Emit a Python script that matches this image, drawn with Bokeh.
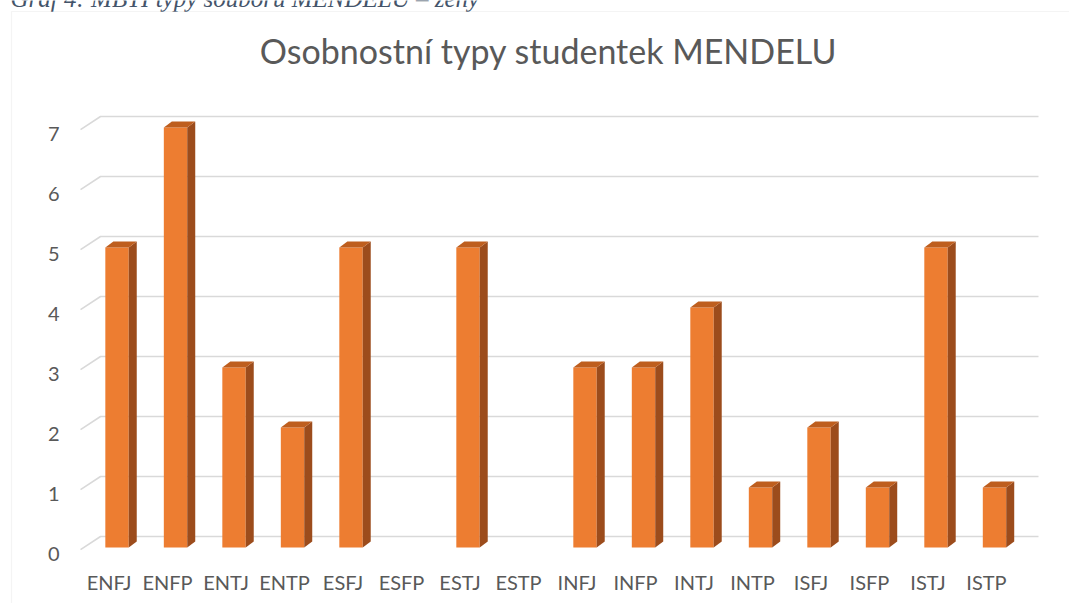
from bokeh.plotting import figure
from bokeh.models import Range1d, BoxAnnotation, ColumnDataSource
from bokeh.core.properties import value
from bokeh.embed import file_html
from bokeh.resources import INLINE

# ---- data ----
categories = ["ENFJ", "ENFP", "ENTJ", "ENTP", "ESFJ", "ESFP", "ESTJ", "ESTP",
              "INFJ", "INFP", "INTJ", "INTP", "ISFJ", "ISFP", "ISTJ", "ISTP"]
counts = [5, 7, 3, 2, 5, 0, 5, 0, 3, 3, 4, 1, 2, 1, 5, 1]
y_values = [0, 1, 2, 3, 4, 5, 6, 7]
title_text = "Osobnostní typy studentek MENDELU"
caption_text = "Graf 4: MBTI typy souboru MENDELU – ženy"

# ---- style ----
FRONT = "#ED7D31"
SIDE = "#9C4C1C"
TOP = "#BE5E1E"
GRID = "#D9D9D9"
TXT = "#595959"
FONT = "Lato"

W, H = 1069, 603
p = figure(width=W, height=H, output_backend="svg", toolbar_location=None,
           x_range=Range1d(-1.855, 16.419), y_range=Range1d(-0.933, 9.117),
           min_border_left=0, min_border_right=0, min_border_top=0,
           min_border_bottom=0)
p.grid.visible = False
p.xaxis.visible = False
p.yaxis.visible = False
p.outline_line_color = None
p.background_fill_color = "white"
p.border_fill_color = "white"

# perspective parameters (data units)
bar_off = 0.137   # front face centre offset from category position
bar_w = 0.40
dx = 0.137
dy = 0.10
back_rise = 0.183
front_drop = 0.035
x_front = -0.487
x_back = -0.145
x_end = 15.889

# back-wall gridlines with left perspective diagonal
gxs, gys = [], []
for v in y_values:
    gxs.append([x_front, x_back, x_end])
    gys.append([v - front_drop, v + back_rise, v + back_rise])
p.multi_line(gxs, gys, line_color=GRID, line_width=1.6)

# bars: front face
centers = [i + bar_off for i in range(len(categories))]
src = ColumnDataSource(dict(x=centers, top=counts))
p.vbar(x="x", top="top", bottom=0, width=bar_w, fill_color=FRONT,
       line_color=None, source=src)

side_xs, side_ys, top_xs, top_ys = [], [], [], []
for c, v in zip(centers, counts):
    if v <= 0:
        continue
    xl, xr = c - bar_w / 2, c + bar_w / 2
    side_xs.append([xr, xr + dx, xr + dx, xr])
    side_ys.append([0, dy, v + dy, v])
    top_xs.append([xl, xl + dx, xr + dx, xr])
    top_ys.append([v, v + dy, v + dy, v])
p.patches(side_xs, side_ys, fill_color=SIDE, line_color=None)
p.patches(top_xs, top_ys, fill_color=TOP, line_color=None)

# category labels (x axis)
p.text(x=list(range(len(categories))), y=[-0.567] * len(categories),
       text=categories, text_align="center", text_baseline="alphabetic",
       text_font=value(FONT), text_font_size="20px", text_color=TXT)

# value labels (y axis)
p.text(x=[-0.846] * len(y_values), y=[v - 0.115 for v in y_values],
       text=[str(v) for v in y_values], text_align="right",
       text_baseline="alphabetic", text_font=value(FONT),
       text_font_size="20px", text_color=TXT)

# chart title
p.text(x=[7.513], y=[8.29], text=[title_text], text_align="center",
       text_baseline="alphabetic", text_font=value(FONT),
       text_font_size="34px", text_color=TXT)

# document caption (mostly above the visible page, as in the source)
p.text(x=[-1.684], y=[9.15], text=[caption_text], text_align="left",
       text_baseline="alphabetic", text_font=value("Liberation Serif"),
       text_font_style="italic", text_font_size="25px", text_color="#44546A")

# chart area border
p.add_layout(BoxAnnotation(left=11, right=W + 10, top=11, bottom=H + 10,
                           left_units="canvas", right_units="canvas",
                           top_units="canvas", bottom_units="canvas",
                           fill_color=None, line_color=GRID, line_width=1.2))

open("out.html", "w").write(file_html(p, INLINE))
